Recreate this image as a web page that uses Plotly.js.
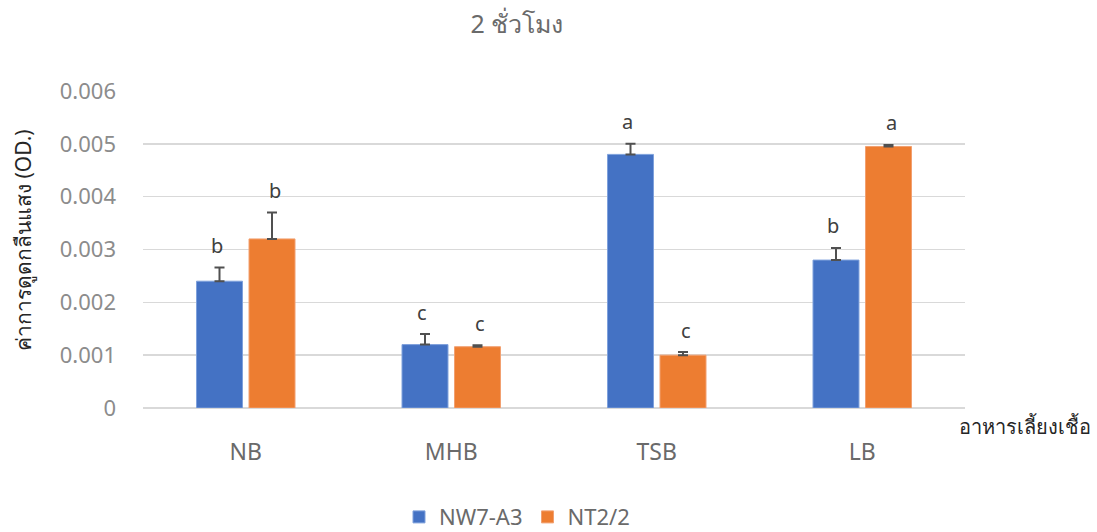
<!DOCTYPE html>
<html>
<head>
<meta charset="utf-8">
<script src="https://cdn.plot.ly/plotly-3.0.1.min.js"></script>
<style>
  html, body { margin: 0; padding: 0; background: #ffffff; }
  #chart { width: 1097px; height: 532px; }
</style>
</head>
<body>
<div id="chart"></div>
<script>
// Culture media and absorbance after 2 hours
const media = ['NB', 'MHB', 'TSB', 'LB'];
const nw7Values = [0.0024, 0.0012, 0.0048, 0.0028];
const nw7Errors = [0.00026, 0.0002, 0.0002, 0.00023];
const nw7Letters = ['b', 'c', 'a', 'b'];
const nt2Values = [0.0032, 0.00116, 0.0010, 0.00495];
const nt2Errors = [0.0005, 0.00003, 0.00006, 0.00003];
const nt2Letters = ['b', 'c', 'c', 'a'];
const yTicks = [0, 0.001, 0.002, 0.003, 0.004, 0.005, 0.006];
const yTickText = ['0', '0.001', '0.002', '0.003', '0.004', '0.005', '0.006'];

const FONT = 'Noto Sans, DejaVu Sans, sans-serif';
const errStyle = { color: '#505050', thickness: 2, width: 5 };

const traces = [
  {
    type: 'bar', name: 'NW7-A3', x: media, y: nw7Values,
    marker: { color: '#4472C4', line: { color: '#7fa1dc', width: 1 } },
    error_y: Object.assign({ type: 'data', array: nw7Errors, symmetric: false, arrayminus: nw7Errors.map(() => 0) }, errStyle)
  },
  {
    type: 'bar', name: 'NT2/2', x: media, y: nt2Values,
    marker: { color: '#ED7D31', line: { color: '#f2a070', width: 1 } },
    error_y: Object.assign({ type: 'data', array: nt2Errors, symmetric: false, arrayminus: nt2Errors.map(() => 0) }, errStyle)
  }
];

// significance letters sit above each error bar
const annotations = [];
media.forEach((m, i) => {
  annotations.push({
    x: m, y: nw7Values[i] + nw7Errors[i], xref: 'x', yref: 'y',
    text: nw7Letters[i], showarrow: false, xshift: -29, yshift: 22,
    font: { family: FONT, size: 20, color: '#404040' }
  });
  annotations.push({
    x: m, y: nt2Values[i] + nt2Errors[i], xref: 'x', yref: 'y',
    text: nt2Letters[i], showarrow: false, xshift: 29, yshift: 22,
    font: { family: FONT, size: 20, color: '#404040' }
  });
});
// axis titles
annotations.push({
  text: 'อาหารเลี้ยงเชื้อ', xref: 'paper', yref: 'paper', x: 1.0, y: 0,
  xanchor: 'left', yanchor: 'middle', xshift: -8, yshift: -18, showarrow: false,
  font: { family: FONT, size: 20, color: '#262626' }
});
annotations.push({
  text: 'ค่าการดูดกลืนแสง (OD.)', xref: 'paper', yref: 'paper', x: 0, y: 0.53,
  xanchor: 'center', yanchor: 'middle', xshift: -120, textangle: -90, showarrow: false,
  font: { family: FONT, size: 21, color: '#262626' }
});

const layout = {
  width: 1097, height: 532,
  margin: { l: 143, r: 132, t: 91, b: 124 },
  paper_bgcolor: '#ffffff', plot_bgcolor: '#ffffff',
  title: {
    text: '2 ชั่วโมง', x: 0.455, xref: 'paper', xanchor: 'center', y: 0.955, yref: 'container', yanchor: 'middle',
    font: { family: FONT, size: 25, color: '#6a6a6a' }
  },
  barmode: 'group', bargap: 0.489, bargroupgap: 0.124,
  showlegend: true,
  legend: {
    orientation: 'h', x: 0.455, xanchor: 'center', y: 0.028, yref: 'container', yanchor: 'middle',
    font: { family: FONT, size: 22, color: '#6a6a6a' }, itemwidth: 30, traceorder: 'normal'
  },
  xaxis: {
    type: 'category', showgrid: false, zeroline: false, showline: false, ticks: '',
    tickfont: { family: FONT, size: 23, color: '#6a6a6a' }, ticklabelstandoff: 28
  },
  yaxis: {
    range: [0, 0.006], tickvals: yTicks, ticktext: yTickText,
    showgrid: true, gridcolor: '#d9d9d9', gridwidth: 1.5,
    zeroline: true, zerolinecolor: '#d9d9d9', zerolinewidth: 1.5, showline: false, ticks: '',
    tickfont: { family: FONT, size: 22, color: '#8c8c8c' }, ticklabelstandoff: 26
  },
  annotations: annotations
};

Plotly.newPlot('chart', traces, layout, { staticPlot: true, displayModeBar: false });
</script>
</body>
</html>
